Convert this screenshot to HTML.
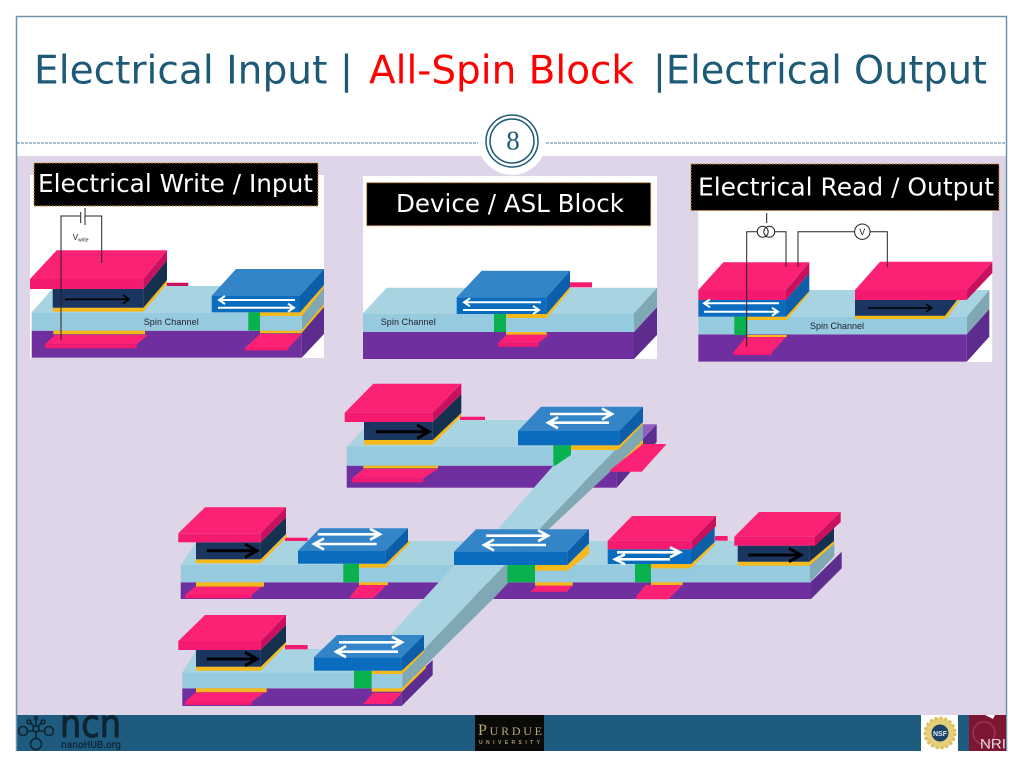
<!DOCTYPE html>
<html><head><meta charset="utf-8"><title>Electrical Input | All-Spin Block | Electrical Output</title>
<style>
html,body{margin:0;padding:0;background:#fff}
svg{display:block}
.pt{fill:#fb2276}.pf{fill:#f41a70}.ps{fill:#c8105f}
.dn{fill:#1a3560}.ds{fill:#16304f}
.bt{fill:#3484c8}.bf{fill:#0a6cbe}.bs{fill:#0c5ea8}
.ct{fill:#a8d4e2}.cf{fill:#96cade}.cs{fill:#7fa8b4}
.pu{fill:#6f2f9f}.pus{fill:#5c2c8e}.pul{fill:#9060c0}
.y{fill:#f5b91c}.g{fill:#0ab14f}
.wa{fill:none;stroke:#fff;stroke-width:2}
.wb{fill:none;stroke:#fff;stroke-width:2.6}
.ka{fill:none;stroke:#000;stroke-width:3}
.wire{fill:none;stroke:#222;stroke-width:1}
.lab{fill:#000;stroke:#c98a3c;stroke-width:1;stroke-dasharray:2 1}
.lt{font-family:"DejaVu Sans","Liberation Sans",sans-serif;font-size:25px;fill:#fff}
.ti{font-family:"DejaVu Sans","Liberation Sans",sans-serif;font-size:39px}
.sc{font-family:"Liberation Sans",sans-serif;font-size:9px;fill:#223}
</style></head><body>
<svg width="1024" height="768" viewBox="0 0 1024 768" xmlns="http://www.w3.org/2000/svg">
<rect width="1024" height="768" fill="#fff"/>
<rect x="17" y="156" width="989" height="559" fill="#dfd5e8"/>
<rect x="17" y="715" width="989" height="36" fill="#1f5b7e"/>
<path d="M16.5 751V16.5H1006.5V751" fill="none" stroke="#6f93ab" stroke-width="1.5"/>

<!-- title -->
<text class="ti" x="34" y="83.5" fill="#1d5a78" textLength="319" lengthAdjust="spacingAndGlyphs">Electrical Input |</text>
<text class="ti" x="369" y="83.5" fill="#ff0000" textLength="265" lengthAdjust="spacingAndGlyphs">All-Spin Block</text>
<text class="ti" x="653" y="83.5" fill="#1d5a78" textLength="334" lengthAdjust="spacingAndGlyphs">|Electrical Output</text>

<!-- dashed rule and number -->
<path d="M17 143H478M546 143H1006" stroke="#4f7f9c" stroke-width="1" stroke-dasharray="3 1" fill="none"/>
<circle cx="512" cy="141" r="34" fill="#fff"/>
<circle cx="512" cy="141" r="26" fill="#fff" stroke="#1d5a78" stroke-width="1.5"/>
<circle cx="512" cy="141" r="22" fill="#fff" stroke="#1d5a78" stroke-width="1.5"/>
<text x="513" y="149.5" text-anchor="middle" font-family="'Liberation Serif',serif" font-size="27" fill="#1d5a78">8</text>

<!-- PANEL 1 -->
<rect x="30" y="175" width="294" height="183" fill="#fff"/>
<polygon class="pus" points="301.7,330.7 324,306.7 324,334 301.7,357.7"/>
<rect class="pu" x="31.7" y="330.7" width="270" height="27"/>
<polygon class="ct" points="31.7,312.3 55,286 324,286 301.7,312.3"/>
<polygon class="cs" points="301.7,312.3 324,286 324,306.7 301.7,330.7"/>
<rect class="cf" x="31.7" y="312.3" width="270" height="18.4"/>
<polygon class="ps" points="166.7,282.7 188.3,282.7 188.3,286 166.7,286"/>
<rect class="y" x="53.3" y="330.7" width="91.7" height="3.6"/>
<polygon class="pt" points="45,344.3 55,335 148,335 136.7,344.3"/>
<rect class="pf" x="45" y="344.3" width="91.7" height="4"/>
<rect class="y" x="52.7" y="307.7" width="90.6" height="4"/>
<polygon class="y" points="143.3,307.7 166.7,280 166.7,284 143.3,311.7"/>
<rect class="dn" x="52.7" y="289" width="90.6" height="18.7"/>
<polygon class="ds" points="143.3,289 167,260 167,280 143.3,307.7"/>
<polygon class="pt" points="30,279 143.3,279 167,250.3 56.7,250.3"/>
<rect class="pf" x="30" y="279" width="113.3" height="10"/>
<polygon class="ps" points="143.3,279 167,250.3 167,260 143.3,289"/>
<path d="M65 299.3H129M123 295L129 299.3L123 303.6" fill="none" stroke="#000" stroke-width="1.6"/>
<rect class="y" x="260" y="330.7" width="41.7" height="2.6"/>
<polygon class="y" points="301.7,330 324,304 324,307 301.7,333"/>
<polygon class="pt" points="245,348 260,334 301.7,334 288.3,348"/>
<rect class="pf" x="245" y="348" width="43.3" height="2.5"/>
<rect class="g" x="248.3" y="312.3" width="11.7" height="18.4"/>
<rect class="y" x="260" y="312.3" width="41.7" height="3.7"/>
<polygon class="y" points="300,312.3 324,285 324,288 301.7,316"/>
<polygon class="bt" points="211.7,295.7 300,295.7 324,269 236,269"/>
<rect class="bf" x="211.7" y="295.7" width="88.3" height="16.6"/>
<polygon class="bs" points="300,295.7 324,269 324,285 300,312.3"/>
<path class="wa" d="M295 300H219M225 296L219 300L225 304M218 307.7H294M288 303.7L294 307.7L288 311.7"/>
<path class="wire" d="M61 340V216H80M80.7 212V223M85 208V225M85 216H101.7V263"/>
<text x="72.7" y="240" font-family="'Liberation Sans',sans-serif" font-size="8" fill="#222">V<tspan font-size="5" dy="1.5">write</tspan></text>
<text class="sc" x="143.7" y="325" textLength="55">Spin Channel</text>
<rect class="lab" x="34" y="163" width="284" height="43"/>
<text class="lt" x="38" y="192" textLength="275" lengthAdjust="spacingAndGlyphs">Electrical Write / Input</text>

<!-- PANEL 2 -->
<rect x="363" y="176" width="294" height="183" fill="#fff"/>
<polygon class="pus" points="634,332 657,307 657,335 634,359"/>
<rect class="pu" x="363" y="332" width="271" height="27"/>
<polygon class="ct" points="363,313.3 386.7,287.7 657,287.7 634,313.3"/>
<polygon class="cs" points="634,313.3 657,287.7 657,306.7 634,332"/>
<rect class="cf" x="363" y="313.3" width="271" height="18.7"/>
<rect class="pf" x="570" y="282.3" width="22" height="5"/>
<rect class="y" x="506" y="332" width="40.7" height="2.7"/>
<polygon class="pt" points="498,343.3 506.7,334.7 549,334.7 538.3,343.3"/>
<rect class="pf" x="498" y="343.3" width="40.3" height="3.4"/>
<rect class="g" x="494" y="314" width="12" height="18"/>
<rect class="y" x="506.7" y="314" width="40" height="4"/>
<polygon class="y" points="546.7,314 570,287 570,290 546.7,318"/>
<polygon class="bt" points="456.7,297.3 546.7,297.3 570,270.7 481.7,270.7"/>
<rect class="bf" x="456.7" y="297.3" width="90" height="16.7"/>
<polygon class="bs" points="546.7,297.3 570,270.7 570,287 546.7,314"/>
<path class="wa" d="M541 302.3H464M470 298.3L464 302.3L470 306.3M463 310H539M533 306L539 310L533 314"/>
<text class="sc" x="380.7" y="325" textLength="55">Spin Channel</text>
<rect class="lab" x="366.7" y="182.7" width="284" height="43"/>
<text class="lt" x="396" y="212" textLength="228" lengthAdjust="spacingAndGlyphs">Device / ASL Block</text>

<!-- PANEL 3 -->
<rect x="698.3" y="180" width="294" height="182" fill="#fff"/>
<polygon class="pus" points="966.7,334.3 989.3,309 989.3,336.7 966.7,361.7"/>
<rect class="pu" x="698.3" y="334.3" width="268.4" height="27.4"/>
<polygon class="ct" points="698.3,316.7 724,290 989.3,290 966.7,316.7"/>
<polygon class="cs" points="966.7,316.7 989.3,290 989.3,309 966.7,334.3"/>
<rect class="cf" x="698.3" y="316.7" width="268.4" height="17.6"/>
<rect class="y" x="746.7" y="335" width="40" height="2"/>
<polygon class="pt" points="733.3,352.5 746,337 786,337 771.7,352.5"/>
<rect class="pf" x="733.3" y="352.5" width="38.4" height="2.5"/>
<rect class="g" x="734.3" y="316.7" width="12.4" height="18.3"/>
<rect class="y" x="746.7" y="316.7" width="40" height="3.3"/>
<polygon class="y" points="786,316.7 809.3,290 809.3,293 786.7,320"/>
<polygon class="bs" points="786,300 809.3,273.3 809.3,291 786,316.7"/>
<rect class="bf" x="698.3" y="300" width="87.7" height="16.7"/>
<polygon class="pt" points="698.3,290 786,290 809.3,262.3 723.3,262.3"/>
<rect class="pf" x="698.3" y="290" width="87.7" height="10"/>
<polygon class="ps" points="786,290 809.3,262.3 809.3,273.3 786,300"/>
<path class="wa" d="M779 303.3H704M710 299.3L704 303.3L710 307.3M704 311.7H778M772 307.7L778 311.7L772 315.7"/>
<rect class="y" x="855" y="315.7" width="90" height="3.3"/>
<polygon class="y" points="945,315.7 958,300 960,300 946,319"/>
<polygon class="dn" points="855,300 957,300 945,315.7 855,315.7"/>
<polygon class="pt" points="855,290 966.7,290 992.3,261.7 880,261.7"/>
<rect class="pf" x="855" y="290" width="111.7" height="10"/>
<polygon class="ps" points="966.7,290 992.3,261.7 992.3,273 966.7,300"/>
<path d="M868 308H931.7M926 304L931.7 308L926 312" fill="none" stroke="#000" stroke-width="1.4"/>
<path class="wire" d="M746.7 346.7V231.7H757M766.7 213V223M775 231.7H786V267M798 267V231.7H854.6M870 231.7H887.3V267.3"/>
<circle class="wire" cx="762.7" cy="231.7" r="5.5"/>
<circle class="wire" cx="769.3" cy="231.7" r="5.5"/>
<circle class="wire" cx="862.3" cy="231.7" r="7.7"/>
<text x="862.3" y="235" text-anchor="middle" font-family="'Liberation Sans',sans-serif" font-size="9" fill="#222">V</text>
<text class="sc" x="810" y="329" textLength="54">Spin Channel</text>
<rect class="lab" x="691" y="164" width="308" height="46.5"/>
<text class="lt" x="698" y="195.5" textLength="296" lengthAdjust="spacingAndGlyphs">Electrical Read / Output</text>

<!-- MAIN: top row bases -->
<polygon class="pus" points="616.7,465.7 656.7,424.3 656.7,442 616.7,487.7"/>
<polygon class="pul" points="643,424.3 656.7,424.3 643,438"/>
<rect class="pu" x="346.7" y="465.7" width="270" height="22"/>
<polygon class="ct" points="346.7,446.7 372,420 643,420 618,446.7"/>
<rect class="cf" x="346.7" y="446.7" width="206.6" height="19"/>
<rect class="ct" x="553" y="446.7" width="65" height="19"/>
<polygon class="pf" points="460,416.7 485,416.7 485,420 460,420"/>
<!-- middle row bases -->
<polygon class="pus" points="811,581.7 841.7,551.7 841.7,568.3 811,599"/>
<rect class="pu" x="180.7" y="582.3" width="630.3" height="16.7"/>
<polygon class="ct" points="180.7,565 197,541 834.3,541 810,565"/>
<polygon class="cs" points="810,565 834.3,541 834.3,556 810,582.3"/>
<rect class="cf" x="180.7" y="565" width="629.3" height="17.3"/>
<!-- bottom row bases -->
<polygon class="pus" points="401.7,688.3 432.7,660 432.7,675 401.7,706"/>
<rect class="pu" x="182.3" y="688.3" width="219.4" height="17.7"/>
<polygon class="ct" points="182.3,672.3 197,649 420,649 402.3,672.3"/>
<rect class="cf" x="182.3" y="672.3" width="220" height="16"/>
<!-- diagonal bar -->
<polygon class="ct" points="392,633 453,567 497,530 553,466 571,450 618,447 402.3,672 340,672 340,649 376,649"/>
<polygon class="cs" points="618,447 643,420 643,441 550,528 508,583 493,599 402.3,688.3 402.3,672"/>

<!-- top row -->
<rect class="y" x="363.3" y="465.7" width="74.7" height="2.6"/>
<polygon class="pt" points="352.3,478.3 363.3,469 438,469 423.3,478.3"/>
<rect class="pf" x="352.3" y="478.3" width="71" height="4"/>
<rect class="y" x="364" y="440" width="68.7" height="4.7"/>
<polygon class="y" points="432.7,440 461.3,413 461.3,416 432.7,444.7"/>
<rect class="dn" x="364" y="422" width="68.7" height="18"/>
<polygon class="ds" points="432.7,422 461.3,394 461.3,413 432.7,440"/>
<polygon class="pt" points="344.7,412.7 432.7,412.7 461.3,383.7 373.3,383.7"/>
<rect class="pf" x="344.7" y="412.7" width="88" height="9.3"/>
<polygon class="ps" points="432.7,412.7 461.3,383.7 461.3,394 432.7,422"/>
<path class="ka" d="M375.7 431.7H428M417 425L429 431.7L417 438.4"/>
<polygon class="y" points="614,468 643,440 643,444 618,470"/>
<polygon class="pt" points="610,470 643,444 666.7,444 641.7,471.7 612,471.7"/>
<polygon class="g" points="553.3,445.3 571,445.3 571,455 555,465.7 553.3,465.7"/>
<rect class="y" x="571" y="445.3" width="47.3" height="4.7"/>
<polygon class="y" points="618,445.3 643,421 643,424 618,450"/>
<polygon class="bt" points="518,431 619.3,431 643,406.7 541,406.7"/>
<rect class="bf" x="518" y="431" width="101.3" height="14.3"/>
<polygon class="bs" points="619.3,431 643,406.7 643,422 619.3,445.3"/>
<path class="wb" d="M550 414H611M602 408.5L612 414L602 419.5M609 422.7H549M558 417.2L548 422.7L558 428.2"/>

<!-- middle row M1 -->
<rect class="pf" x="285" y="537.7" width="22.7" height="3.3"/>
<rect class="y" x="196" y="582.3" width="68" height="4.4"/>
<polygon class="pt" points="185,595 195,586.7 261.7,586.7 251.7,595"/>
<rect class="pf" x="185" y="595" width="66.7" height="3.3"/>
<rect class="y" x="196" y="559.3" width="64.7" height="4"/>
<polygon class="y" points="260.7,559.3 287,534 287,537 260.7,563.3"/>
<rect class="dn" x="196" y="542.3" width="64.7" height="17"/>
<polygon class="ds" points="260.7,542.3 286,517 286,534 260.7,559.3"/>
<polygon class="pt" points="178.3,533.3 260.7,533.3 286,507.3 205,507.3"/>
<rect class="pf" x="178.3" y="533.3" width="82.4" height="9"/>
<polygon class="ps" points="260.7,533.3 286,507.3 286,517 260.7,542.3"/>
<path class="ka" d="M206.7 550.7H256M245 544L257 550.7L245 557.4"/>
<!-- M2 -->
<rect class="y" x="359" y="582.3" width="29" height="2.7"/>
<polygon class="pt" points="349,598.3 359.3,585 386.7,585 373.3,598.3"/>
<rect class="g" x="343.3" y="563.7" width="15.7" height="18.6"/>
<rect class="y" x="359" y="563.7" width="26.7" height="4"/>
<polygon class="y" points="385.7,563.7 410,540 410,543 385.7,567.7"/>
<polygon class="bt" points="298,550.7 385.7,550.7 408,528.3 320,528.3"/>
<rect class="bf" x="298" y="550.7" width="87.7" height="13"/>
<polygon class="bs" points="385.7,550.7 408,528.3 408,542 385.7,563.7"/>
<path class="wb" d="M317.7 534.3H379M370 528.8L380 534.3L370 539.8M376.7 544H315M324 538.5L314 544L324 549.5"/>
<!-- M3 -->
<rect class="y" x="535" y="582.3" width="37.7" height="3.4"/>
<polygon class="pt" points="530.7,591.7 536.7,585.7 572.7,585.7 566.7,591.7"/>
<rect class="g" x="507.3" y="565" width="27.7" height="17.3"/>
<rect class="y" x="535" y="565" width="32.3" height="5.7"/>
<polygon class="y" points="567.3,565 589,544 589,554 567.3,570.7"/>
<polygon class="bt" points="454,551.7 567.3,551.7 589,529.3 476,529.3"/>
<rect class="bf" x="454" y="551.7" width="113.3" height="13.3"/>
<polygon class="bs" points="567.3,551.7 589,529.3 589,543.5 567.3,565"/>
<path class="wb" d="M486 535.7H547M538 530.2L548 535.7L538 541.2M546 545H485M494 539.5L484 545L494 550.5"/>
<!-- M4 -->
<rect class="pf" x="715" y="536" width="12.7" height="4.7"/>
<rect class="y" x="651" y="582.3" width="31.7" height="2.7"/>
<polygon class="pt" points="636,596.7 645.7,585 682.7,585 668.3,599.3 636.7,599.3"/>
<rect class="g" x="635" y="564" width="16" height="18.3"/>
<rect class="y" x="651" y="564" width="39.7" height="4.3"/>
<polygon class="y" points="690.7,564 714.7,542 714.7,545 690.7,568.3"/>
<polygon class="bs" points="691,549.3 714.7,526 714.7,542 691,564"/>
<rect class="bf" x="607.7" y="549.3" width="83.3" height="14.7"/>
<polygon class="pt" points="607.7,540.7 691.7,540.7 716,516 632,516"/>
<rect class="pf" x="607.7" y="540.7" width="84" height="8.6"/>
<polygon class="ps" points="691.7,540.7 716,516 716,526 691.7,549.3"/>
<path class="wb" d="M617 552.3H679M670 547.3L680 552.3L670 557.3M670 559.3H616M625 554.3L615 559.3L625 564.3"/>
<!-- M5 -->
<rect class="y" x="737.7" y="561.7" width="71.6" height="4"/>
<polygon class="y" points="809.3,561.7 834,541 834,544 809.3,565.7"/>
<rect class="dn" x="737.7" y="545.7" width="71.6" height="16"/>
<polygon class="ds" points="809.3,545.7 834,525 834,541 809.3,561.7"/>
<polygon class="pt" points="734.3,536.7 815,536.7 840.7,512 759,512"/>
<rect class="pf" x="734.3" y="536.7" width="80.7" height="9"/>
<polygon class="ps" points="815,536.7 840.7,512 840.7,522 815,545.7"/>
<path class="ka" d="M748.3 555H800M789 548.3L801 555L789 561.7"/>

<!-- bottom row -->
<rect class="pf" x="285" y="645" width="22.7" height="4.3"/>
<rect class="y" x="196" y="688.3" width="70.7" height="4"/>
<polygon class="pt" points="185,701.7 196,692.3 265,692.3 251.7,701.7"/>
<rect class="pf" x="185" y="701.7" width="66.7" height="3.3"/>
<rect class="y" x="196" y="666.7" width="64.7" height="4"/>
<polygon class="y" points="260.7,666.7 286,642 286,645 260.7,670.7"/>
<rect class="dn" x="196" y="650" width="64.7" height="16.7"/>
<polygon class="ds" points="260.7,650 286,625 286,642 260.7,666.7"/>
<polygon class="pt" points="178.3,641 260.7,641 286,615 205,615"/>
<rect class="pf" x="178.3" y="641" width="82.4" height="9"/>
<polygon class="ps" points="260.7,641 286,615 286,625 260.7,650"/>
<path class="ka" d="M206.7 659H256M245 652.3L257 659L245 665.7"/>
<rect class="y" x="371.7" y="688.3" width="30.3" height="3.4"/>
<polygon class="y" points="402,688.3 426,665 426,668 402,691.7"/>
<polygon class="pt" points="363.3,704 373.3,692.7 401.7,692.7 391.7,704"/>
<rect class="g" x="354" y="670.7" width="17.7" height="17.6"/>
<rect class="y" x="371.7" y="670.7" width="30.6" height="3.3"/>
<polygon class="y" points="402,670.7 424,648 424,652 402.3,674"/>
<polygon class="bt" points="314,657.3 401.7,657.3 424,635 337,635"/>
<rect class="bf" x="314" y="657.3" width="87.7" height="13.4"/>
<polygon class="bs" points="401.7,657.3 424,635 424,650 401.7,670.7"/>
<path class="wb" d="M339 642.3H401M392 636.8L402 642.3L392 647.8M398 651.7H337M346 646.2L336 651.7L346 657.2"/>

<!-- footer logos -->
<g fill="none" stroke="#0e2433" stroke-width="1.6">
<circle cx="23" cy="731" r="4.5"/><circle cx="49" cy="731" r="4.5"/><circle cx="36" cy="744" r="5.5"/>
<circle cx="36" cy="729" r="3"/><circle cx="29" cy="722" r="2"/><circle cx="43" cy="722" r="2"/><circle cx="36" cy="718" r="1.5"/>
<path d="M27 731H33M39 731H45M36 732V739M31 723L34 727M41 723L38 727M36 720V726"/>
</g>
<text x="60" y="737" font-family="'DejaVu Sans',sans-serif" font-size="38" fill="#0e2433" stroke="#0e2433" stroke-width="1" textLength="61" lengthAdjust="spacingAndGlyphs">ncn</text>
<text x="61" y="748" font-family="'DejaVu Sans',sans-serif" font-size="10" fill="#0e2433" stroke="#0e2433" stroke-width=".3" textLength="60" lengthAdjust="spacingAndGlyphs">nanoHUB.org</text>
<rect x="475" y="715" width="69" height="36" fill="#0a0a08"/>
<text x="478" y="735" font-family="'Liberation Serif',serif" font-size="12" fill="#b8a97c" textLength="64" lengthAdjust="spacing"><tspan font-size="16">P</tspan>URDUE</text>
<text x="479" y="744" font-family="'Liberation Sans',sans-serif" font-weight="bold" font-size="5" fill="#a89a70" textLength="61" lengthAdjust="spacing">UNIVERSITY</text>
<rect x="921" y="715" width="37" height="36" fill="#fff"/>
<circle cx="940" cy="733" r="15" fill="#e6cf7a" stroke="#d9c25f" stroke-width="3" stroke-dasharray="3 2"/>
<circle cx="940" cy="733" r="8.5" fill="#1c4468"/>
<text x="940" y="736" text-anchor="middle" font-family="'Liberation Sans',sans-serif" font-size="7" font-weight="bold" fill="#dfe6f0">NSF</text>
<rect x="969" y="715" width="37" height="36" fill="#7c1632"/>
<polygon points="985,715 995,715 993,719" fill="#fff"/>
<circle cx="984" cy="733" r="11" fill="none" stroke="#94304a" stroke-width="2"/>
<text x="980" y="748.5" font-family="'Liberation Sans',sans-serif" font-size="14" fill="#e8e0e0" textLength="26" lengthAdjust="spacingAndGlyphs">NRI</text>
</svg>
</body></html>
